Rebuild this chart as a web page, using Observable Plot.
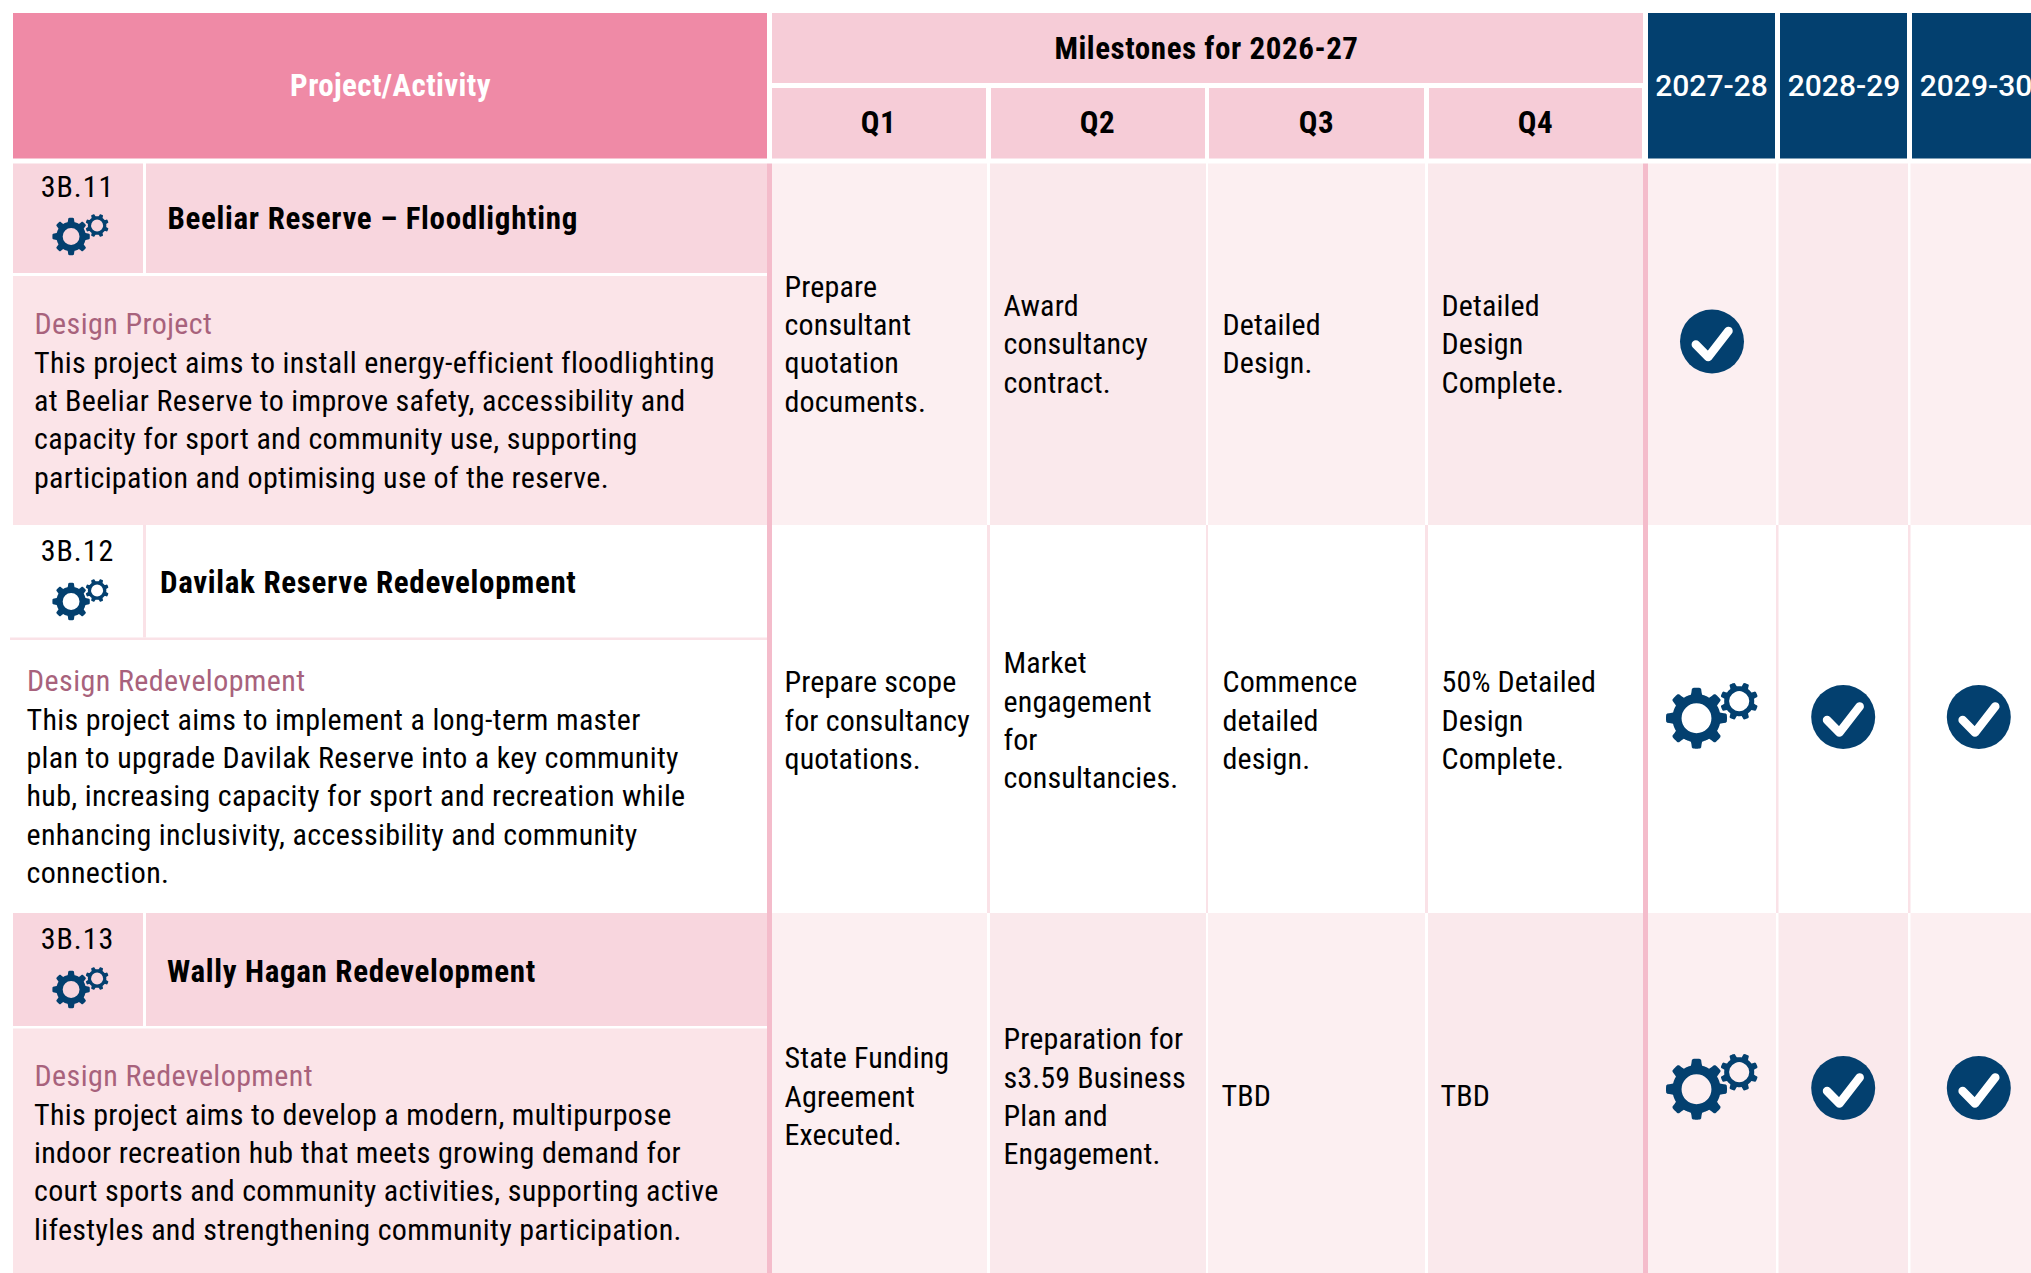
<!DOCTYPE html>
<html>
<head>
<meta charset="utf-8">
<script src="https://cdn.jsdelivr.net/npm/d3@7"></script>
<script src="https://cdn.jsdelivr.net/npm/@observablehq/plot@0.6"></script>
<style>
html,body{margin:0;padding:0;background:#fff;overflow:hidden}
svg{display:block}
g[aria-description="title"]{letter-spacing:.68px}
g[aria-description="head"]{letter-spacing:.55px}
g[aria-description="headleft"]{letter-spacing:.4px}
g[aria-description="id"]{letter-spacing:1px}
g[aria-description="kind"]{letter-spacing:.42px}
g[aria-description="desc"]{letter-spacing:.33px}
g[aria-description="mile"]{letter-spacing:.15px}
</style>
</head>
<body>
<div id="chart"></div>
<script>
// ---------- table content ----------
const headLeft = "Project/Activity";
const headMiddle = "Milestones for 2026-27";
const quarters = ["Q1", "Q2", "Q3", "Q4"];
const years = ["2027-28", "2028-29", "2029-30"];
const ids = ["3B.11", "3B.12", "3B.13"];
const titles = ["Beeliar Reserve – Floodlighting", "Davilak Reserve Redevelopment", "Wally Hagan Redevelopment"];
const kinds = ["Design Project", "Design Redevelopment", "Design Redevelopment"];
const descriptions = [
  "This project aims to install energy-efficient floodlighting\nat Beeliar Reserve to improve safety, accessibility and\ncapacity for sport and community use, supporting\nparticipation and optimising use of the reserve.",
  "This project aims to implement a long-term master\nplan to upgrade Davilak Reserve into a key community\nhub, increasing capacity for sport and recreation while\nenhancing inclusivity, accessibility and community\nconnection.",
  "This project aims to develop a modern, multipurpose\nindoor recreation hub that meets growing demand for\ncourt sports and community activities, supporting active\nlifestyles and strengthening community participation."
];
const milestones = [
  ["Prepare\nconsultant\nquotation\ndocuments.", "Award\nconsultancy\ncontract.", "Detailed\nDesign.", "Detailed\nDesign\nComplete."],
  ["Prepare scope\nfor consultancy\nquotations.", "Market\nengagement\nfor\nconsultancies.", "Commence\ndetailed\ndesign.", "50% Detailed\nDesign\nComplete."],
  ["State Funding\nAgreement\nExecuted.", "Preparation for\ns3.59 Business\nPlan and\nEngagement.", "TBD", "TBD"]
];
const status = [
  ["done", null, null],
  ["progress", "done", "done"],
  ["progress", "done", "done"]
];

// ---------- layout ----------
const W = 2031, H = 1273;
const c = {
  PINK: "#EF8AA6", QHEAD: "#F6CCD7", NAVY: "#03406F", BAND: "#F8D6DE", DESC: "#FBE4E8",
  LIGHT: "#FCEFF1", DARK: "#FAE9EC", RULE: "#F4BCCB", PALE: "#FAE2E7", LABEL: "#A8627C", WHITE: "#FFFFFF"
};
const rowY = [
  {top: 163.5, bandEnd: 273, descTop: 276, bottom: 525, idY: 186.5, titleY: 219, titleX: 167, textX: 33.5, labelY: 324, descY: 417.5, midY: 341.5, iconY: 341, gearY: 236, shaded: true},
  {top: 525, bandEnd: 637.5, descTop: 640, bottom: 913, idY: 551, titleY: 583, titleX: 159.5, textX: 26, labelY: 681, descY: 793.5, midY: 718, iconY: 716.5, gearY: 601, shaded: false},
  {top: 913, bandEnd: 1026, descTop: 1028.5, bottom: 1273, idY: 939, titleY: 971.5, titleX: 166.5, textX: 33.5, labelY: 1076, descY: 1169.5, midY: 1094, iconY: 1087.5, gearY: 989, shaded: true}
];
const qCols = [[772, 987], [990, 1206], [1208, 1425], [1428, 1643]];
const yCols = [[1648, 1776], [1778.5, 1908], [1910.5, 2031]];
const yHead = [[1648, 1775], [1780, 1907], [1912, 2031]];
const qText = [784, 1003, 1222, 1441];
const yCenter = [1711.5, 1842.7, 1978.3];

// ---------- cells ----------
const rects = [
  {x1: 13, x2: 767, y1: 13, y2: 158.5, fill: c.PINK},
  {x1: 772, x2: 1643, y1: 13, y2: 83, fill: c.QHEAD},
  ...qCols.map(([x1, x2], i) => ({x1: i ? x1 + 1 : x1, x2: x2 - 1, y1: 88, y2: 158.5, fill: c.QHEAD})),
  ...yHead.map(([x1, x2]) => ({x1, x2, y1: 13, y2: 158.5, fill: c.NAVY}))
];
rowY.forEach((r) => {
  if (r.shaded) {
    rects.push({x1: 13, x2: 143, y1: r.top, y2: r.bandEnd, fill: c.BAND});
    rects.push({x1: 146, x2: 767, y1: r.top, y2: r.bandEnd, fill: c.BAND});
    rects.push({x1: 13, x2: 767, y1: r.descTop, y2: r.bottom, fill: c.DESC});
    qCols.forEach(([x1, x2], i) => rects.push({x1, x2, y1: r.top, y2: r.bottom, fill: i % 2 ? c.DARK : c.LIGHT}));
    yCols.forEach(([x1, x2], i) => rects.push({x1, x2, y1: r.top, y2: r.bottom, fill: i % 2 ? c.DARK : c.LIGHT}));
  } else {
    rects.push({x1: 143, x2: 146, y1: r.top, y2: r.bandEnd, fill: c.PALE});
    rects.push({x1: 10, x2: 767, y1: r.bandEnd, y2: r.descTop, fill: c.PALE});
    [[987, 990], [1206, 1208], [1425, 1428], [1776, 1778.5], [1908, 1910.5]].forEach(([x1, x2]) =>
      rects.push({x1, x2, y1: r.top, y2: r.bottom, fill: c.PALE}));
  }
});
rects.push({x1: 767, x2: 772, y1: 163.5, y2: H, fill: c.RULE});
rects.push({x1: 1643, x2: 1648, y1: 163.5, y2: H, fill: c.RULE});

// ---------- texts ----------
const BODY = "'Liberation Sans Narrow','Roboto Condensed','Liberation Sans',sans-serif";
const YEARFONT = "Roboto,'Liberation Sans',sans-serif";
const mk = (data, opt) => Plot.text(data, {x: "x", y: "y", text: "t", lineAnchor: "middle", fontFamily: BODY, ...opt});

const leftHead = [{x: 390, y: 85.5, t: headLeft}];
const headText = [
  {x: 1206, y: 48.5, t: headMiddle},
  ...quarters.map((q, i) => ({x: [878, 1097, 1316, 1535][i], y: 123, t: q}))
];
const yearText = years.map((t, i) => ({x: [1711, 1843.5, 1975.5][i], y: 85.5, t}));
const idText = ids.map((t, i) => ({x: 77, y: rowY[i].idY, t}));
const titleText = titles.map((t, i) => ({x: rowY[i].titleX, y: rowY[i].titleY, t}));
const kindText = kinds.map((t, i) => ({x: rowY[i].textX + 0.5, y: rowY[i].labelY, t}));
const descText = descriptions.map((t, i) => ({x: rowY[i].textX, y: rowY[i].descY, t}));
const mileText = milestones.flatMap((row, i) => row.map((t, j) => ({
  x: qText[j] - (t === "TBD" ? 1 : 0), y: rowY[i].midY - (t === "TBD" ? 1 : 0), t
})));

// ---------- icons ----------
function gearSymbol(hole) {
  return {
    draw(ctx, size) {
      const R = Math.sqrt(size / Math.PI), root = R * 0.79, teeth = 8, n = 160;
      for (let k = 0; k <= n; ++k) {
        const a = (k / n) * 2 * Math.PI - Math.PI / 2;
        const p = ((k / n) * teeth) % 1;              // position within a tooth period
        const d = Math.abs(p > 0.5 ? p - 1 : p);      // distance to tooth axis
        let s = d < 0.17 ? 1 : d > 0.30 ? 0 : 1 - (d - 0.17) / 0.13;
        s = s * s * (3 - 2 * s);
        const rr = root + (R - root) * s;
        const x = rr * Math.cos(a), y = rr * Math.sin(a);
        k ? ctx.lineTo(x, y) : ctx.moveTo(x, y);
      }
      ctx.closePath();
      ctx.moveTo(R * hole, 0);
      ctx.arc(0, 0, R * hole, 0, 2 * Math.PI, true);
      ctx.closePath();
    }
  };
}
const checkSymbol = {
  draw(ctx, size) {
    const R = Math.sqrt(size / Math.PI);
    ctx.moveTo(-0.505 * R, 0.095 * R);
    ctx.lineTo(-0.12 * R, 0.485 * R);
    ctx.lineTo(0.515 * R, -0.33 * R);
  }
};
const doneIcons = [], progressIcons = [];
status.forEach((row, i) => row.forEach((s, j) => {
  if (s === "done") doneIcons.push({x: yCenter[j], y: rowY[i].iconY});
  if (s === "progress") progressIcons.push({x: yCenter[j] - 15.5, y: rowY[i].iconY + 1.2});
}));
const idGears = rowY.map((r) => ({x: 70.6, y: r.gearY}));

// ---------- plot ----------
const chart = Plot.plot({
  width: W, height: H, margin: 0,
  style: {background: "#fff", maxWidth: "none"},
  x: {domain: [0, W], range: [0, W], axis: null},
  y: {domain: [0, H], range: [0, H], axis: null},
  marks: [
    Plot.rect(rects, {x1: "x1", x2: "x2", y1: "y1", y2: "y2", fill: "fill"}),

    mk(leftHead, {ariaDescription: "headleft", fill: c.WHITE, fontWeight: 700, fontSize: 31, textAnchor: "middle"}),
    mk(headText, {ariaDescription: "head", fill: "#000", fontWeight: 700, fontSize: 31, textAnchor: "middle"}),
    mk(yearText, {ariaDescription: "year", fill: c.WHITE, fontFamily: YEARFONT, fontWeight: 500, fontSize: 30, textAnchor: "middle"}),
    mk(idText, {ariaDescription: "id", fill: "#000", fontSize: 30, textAnchor: "middle"}),
    mk(titleText, {ariaDescription: "title", fill: "#000", fontWeight: 700, fontSize: 31, textAnchor: "start"}),
    mk(kindText, {ariaDescription: "kind", fill: c.LABEL, fontSize: 30, textAnchor: "start"}),
    mk(descText, {ariaDescription: "desc", fill: "#000", fontSize: 30, lineHeight: 38.4 / 30, textAnchor: "start"}),
    mk(mileText, {ariaDescription: "mile", fill: "#000", fontSize: 30, lineHeight: 38.4 / 30, textAnchor: "start"}),

    Plot.dot(doneIcons, {x: "x", y: "y", r: 32, fill: c.NAVY, stroke: "none"}),
    Plot.dot(doneIcons, {x: "x", y: "y", r: 32, symbol: checkSymbol, fill: "none", stroke: c.WHITE, strokeWidth: 8.5, strokeLinecap: "round", strokeLinejoin: "round"}),
    Plot.dot(progressIcons, {x: "x", y: "y", r: 30.5, symbol: gearSymbol(0.49), fill: c.NAVY, stroke: "none"}),
    Plot.dot(progressIcons, {x: (d) => d.x + 42.7, y: (d) => d.y - 17, r: 19, rotate: 22.5, symbol: gearSymbol(0.53), fill: c.NAVY, stroke: "none"}),
    Plot.dot(idGears, {x: "x", y: "y", r: 18.7, symbol: gearSymbol(0.45), fill: c.NAVY, stroke: "none"}),
    Plot.dot(idGears, {x: (d) => d.x + 26, y: (d) => d.y - 11, r: 11.7, rotate: 22.5, symbol: gearSymbol(0.51), fill: c.NAVY, stroke: "none"})
  ]
});
document.getElementById("chart").append(chart);
</script>
</body>
</html>
